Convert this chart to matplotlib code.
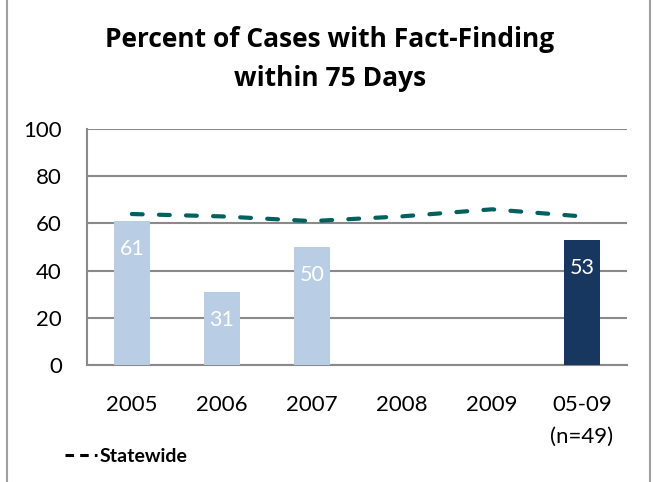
import matplotlib
matplotlib.use("Agg")
import matplotlib.pyplot as plt
from matplotlib.patches import Rectangle

categories = ["2005", "2006", "2007", "2008", "2009", "05-09\n(n=49)"]
county_values = [61, 31, 50, None, None, 53]
statewide = [64, 63, 61, 63, 66, 63]
yticks = [0, 20, 40, 60, 80, 100]

plt.rcParams['font.family'] = ['Lato', 'DejaVu Sans']

fig = plt.figure(figsize=(6.53, 4.82), dpi=100)
ax = fig.add_axes([0.133, 0.243, 0.827, 0.489])

x = list(range(len(categories)))
colors = ["#b9cde5"] * 5 + ["#17375e"]
for i, v in enumerate(county_values):
    if v is None:
        continue
    ax.bar(i, v, width=0.4, color=colors[i], zorder=3)
    ax.text(i, v - 12, str(v), ha='center', va='center', color='white', fontsize=15.5, zorder=4)

ax.plot(x, statewide, linestyle=(0, (2.6, 3.9)), color="#00605e", linewidth=3, zorder=5,
        dash_capstyle='round')

ax.set_xlim(-0.5, len(categories) - 0.5)
ax.set_ylim(0, 100)
ax.set_yticks(yticks)
ax.set_xticks(x)
ax.set_xticklabels(categories, fontsize=16, linespacing=1.7)
ax.tick_params(axis='y', labelsize=16, length=0, pad=18)
ax.tick_params(axis='x', length=0, pad=22)
ax.grid(axis='y', color="#8a8a8a", linewidth=1.5, zorder=1)
ax.set_axisbelow(True)
for s in ['top', 'right']:
    ax.spines[s].set_visible(False)
for s in ['left', 'bottom']:
    ax.spines[s].set_color("#8a8a8a")
    ax.spines[s].set_linewidth(1.5)

fig.text(0.505, 0.903, "Percent of Cases with Fact-Finding", ha='center', va='baseline',
         fontsize=19, fontweight='bold', family=['Open Sans', 'DejaVu Sans'])
fig.text(0.505, 0.822, "within 75 Days", ha='center', va='baseline',
         fontsize=19, fontweight='bold', family=['Open Sans', 'DejaVu Sans'])

# legend
fig.lines.append(plt.Line2D([0.1, 0.148], [0.056, 0.056], transform=fig.transFigure,
                            color='black', linewidth=2.2, linestyle=(0, (2.8, 2.0))))
fig.text(0.153, 0.041, "Statewide", ha='left', va='baseline', fontsize=14, fontweight='bold')

# border
fig.patches.append(Rectangle((0.011, -0.01), 0.985, 1.02, transform=fig.transFigure,
                             fill=False, edgecolor="#a0a0a0", linewidth=1.5))

fig.savefig("out.png", dpi=100)
